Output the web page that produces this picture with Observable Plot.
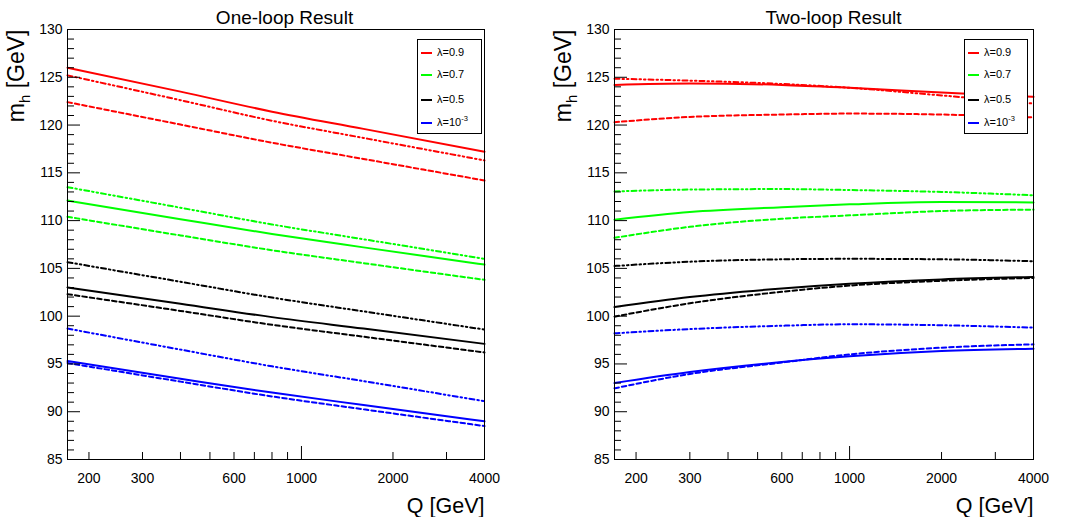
<!DOCTYPE html>
<html><head><meta charset="utf-8">
<script src="https://cdn.jsdelivr.net/npm/d3@7"></script>
<script src="https://cdn.jsdelivr.net/npm/@observablehq/plot@0.6"></script>
<style>
body{margin:0;background:#fff;}
#wrap{position:relative;width:1067px;height:517px;font-family:"Liberation Sans",Arial,Helvetica,sans-serif;overflow:hidden;}
.panel{position:absolute;top:0;}
.legend{position:absolute;border:1px solid #000;background:#fff;box-sizing:border-box;}
.legend .sw{position:absolute;width:11px;height:2px;}
.legend .lb{position:absolute;font-size:11px;line-height:11px;white-space:nowrap;color:#000;}
.legend sup{font-size:7.5px;vertical-align:5px;line-height:0;}
</style></head><body><div id="wrap"></div>
<script>
// ---- categories ----
const lambdas = ["0.9", "0.7", "0.5", "1e-3"];
const legendLabels = ["λ=0.9", "λ=0.7", "λ=0.5", "λ=10<sup>-3</sup>"];
const lambdaColors = ["#ff0000", "#00ff00", "#000000", "#0000ff"];

// ---- One-loop result (rows follow lambdas order) ----
const Q1 = [170, 400, 800, 1600, 4000];
const oneSolid = [
  [126.0, 123.5, 121.4, 119.6, 117.2],
  [112.1, 110.15, 108.6, 107.2, 105.4],
  [103.0, 101.3, 99.9, 98.7, 97.1],
  [95.3, 93.45, 92.0, 90.7, 89.0]
];
const oneDashed = [
  [122.4, 120.05, 118.15, 116.45, 114.2],
  [110.4, 108.45, 106.9, 105.55, 103.8],
  [102.3, 100.55, 99.1, 97.85, 96.2],
  [95.1, 93.15, 91.6, 90.25, 88.5]
];
const oneDashDot = [
  [125.2, 122.6, 120.45, 118.65, 116.3],
  [113.5, 111.35, 109.6, 108.05, 106.0],
  [105.65, 103.6, 101.95, 100.5, 98.6],
  [98.7, 96.5, 94.75, 93.2, 91.1]
];

// ---- Two-loop result ----
const Q2 = [170, 300, 600, 1000, 2000, 4000];
const twoSolid = [
  [124.2, 124.35, 124.2, 123.9, 123.4, 122.95],
  [110.1, 110.9, 111.4, 111.7, 111.95, 111.9],
  [100.95, 102.0, 102.9, 103.4, 103.85, 104.1],
  [93.0, 94.15, 95.2, 95.8, 96.35, 96.6]
];
const twoDashed = [
  [120.3, 120.85, 121.1, 121.2, 121.1, 120.8],
  [108.2, 109.35, 110.2, 110.55, 111.0, 111.15],
  [99.95, 101.35, 102.55, 103.2, 103.7, 104.0],
  [92.45, 93.95, 95.15, 96.0, 96.7, 97.05]
];
const twoDashDot = [
  [124.85, 124.65, 124.3, 123.9, 123.1, 122.25],
  [113.05, 113.25, 113.3, 113.2, 113.0, 112.65],
  [105.25, 105.7, 105.95, 106.0, 105.95, 105.75],
  [98.2, 98.65, 99.0, 99.15, 99.05, 98.8]
];

// ---- axes ----
const xDomain = [170, 4000];
const yDomain = [85, 130];
const xTickLabels = [200, 300, 600, 1000, 2000, 4000];
const xMinorTicks = [200, 300, 400, 500, 600, 700, 800, 900, 2000, 3000, 4000];
const xMajorTicks = [1000];
const yMajorTicks = d3.range(85, 131, 5);
const yMinorTicks = d3.range(85, 131, 1).filter(v => v % 5 !== 0);

function toRows(Q, series) {
  return series.flatMap((vals, i) => vals.map((v, j) => ({Q: Q[j], m: v, lam: lambdas[i]})));
}

function makePanel({title, Q, solid, dashed, dashdot, left, width, marginRight, titleDx}) {
  const marginLeft = 67, marginTop = 29, marginBottom = 58, height = 517;
  const fw = width - marginLeft - marginRight;
  const fh = height - marginTop - marginBottom;
  const lineOpts = {x: "Q", y: "m", z: "lam", stroke: "lam", strokeWidth: 2, curve: "monotone-x"};
  const svg = Plot.plot({
    width, height, marginLeft, marginRight, marginTop, marginBottom,
    style: {fontFamily: '"Liberation Sans", Arial, Helvetica, sans-serif', fontSize: "14px", background: "transparent", overflow: "visible"},
    x: {type: "log", domain: xDomain},
    y: {domain: yDomain},
    color: {domain: lambdas, range: lambdaColors},
    marks: [
      Plot.line(toRows(Q, dashed), {...lineOpts, strokeDasharray: "4.5,3"}),
      Plot.line(toRows(Q, dashdot), {...lineOpts, strokeDasharray: "5,3,1.5,3,1.5,3"}),
      Plot.line(toRows(Q, solid), {...lineOpts}),
      Plot.frame({stroke: "#000", strokeWidth: 1}),
      Plot.tickY(yMajorTicks, {y: d => d, stroke: "#000", insetRight: fw - 13}),
      Plot.tickY(yMinorTicks, {y: d => d, stroke: "#000", insetRight: fw - 7}),
      Plot.tickX(xMinorTicks, {x: d => d, stroke: "#000", insetTop: fh - 7}),
      Plot.tickX(xMajorTicks, {x: d => d, stroke: "#000", insetTop: fh - 13}),
      Plot.axisY({ticks: yMajorTicks, tickSize: 0, tickPadding: 5, label: null, fontSize: 14, tickFormat: d => String(d)}),
      Plot.axisX({ticks: xTickLabels, tickSize: 0, tickPadding: 14, label: null, fontSize: 14, tickFormat: d => String(d)}),
      Plot.text([title], {text: d => d, frameAnchor: "top", lineAnchor: "middle", dx: titleDx, dy: -12, fontSize: 19, fill: "#000"}),
      Plot.text(["mh [GeV]"], {text: d => d, frameAnchor: "top-left", lineAnchor: "middle", rotate: -90, textAnchor: "end", dx: -51, fontSize: 23, fill: "#000"}),
      Plot.text(["Q [GeV]"], {text: d => d, frameAnchor: "bottom-right", textAnchor: "end", lineAnchor: "bottom", dy: 53, fontSize: 21.5, fill: "#000"})
    ]
  });
  // subscript for m_h
  svg.querySelectorAll("text").forEach(t => {
    if (t.textContent === "mh [GeV]") {
      t.textContent = "";
      const ns = "http://www.w3.org/2000/svg";
      const a = document.createElementNS(ns, "tspan"); a.textContent = "m";
      const b = document.createElementNS(ns, "tspan"); b.textContent = "h"; b.setAttribute("dy", "6"); b.setAttribute("font-size", "15");
      const c = document.createElementNS(ns, "tspan"); c.textContent = " [GeV]"; c.setAttribute("dy", "-6");
      t.append(a, b, c);
    }
  });
  svg.classList.add("panel");
  svg.style.left = left + "px";
  return svg;
}

function makeLegend(left, top, w, h, lineX, textX) {
  const box = document.createElement("div");
  box.className = "legend";
  Object.assign(box.style, {left: left + "px", top: top + "px", width: w + "px", height: h + "px"});
  const rowY = [12.7, 35.3, 59.5, 82.5];
  lambdas.forEach((l, i) => {
    const sw = document.createElement("div");
    sw.className = "sw";
    Object.assign(sw.style, {left: lineX + "px", top: (rowY[i] - 1) + "px", background: lambdaColors[i]});
    const lb = document.createElement("div");
    lb.className = "lb";
    lb.innerHTML = legendLabels[i];
    Object.assign(lb.style, {left: textX + "px", top: (rowY[i] - 6) + "px"});
    box.append(sw, lb);
  });
  return box;
}

const wrap = document.getElementById("wrap");
wrap.append(makePanel({title: "One-loop Result", Q: Q1, solid: oneSolid, dashed: oneDashed, dashdot: oneDashDot, left: 0, width: 533, marginRight: 49, titleDx: 8.5}));
wrap.append(makePanel({title: "Two-loop Result", Q: Q2, solid: twoSolid, dashed: twoDashed, dashdot: twoDashDot, left: 547, width: 520, marginRight: 34, titleDx: 9.5}));
wrap.append(makeLegend(417, 39, 65, 95, 3, 19));
wrap.append(makeLegend(964, 39, 64, 95, 3, 19));
</script></body></html>
